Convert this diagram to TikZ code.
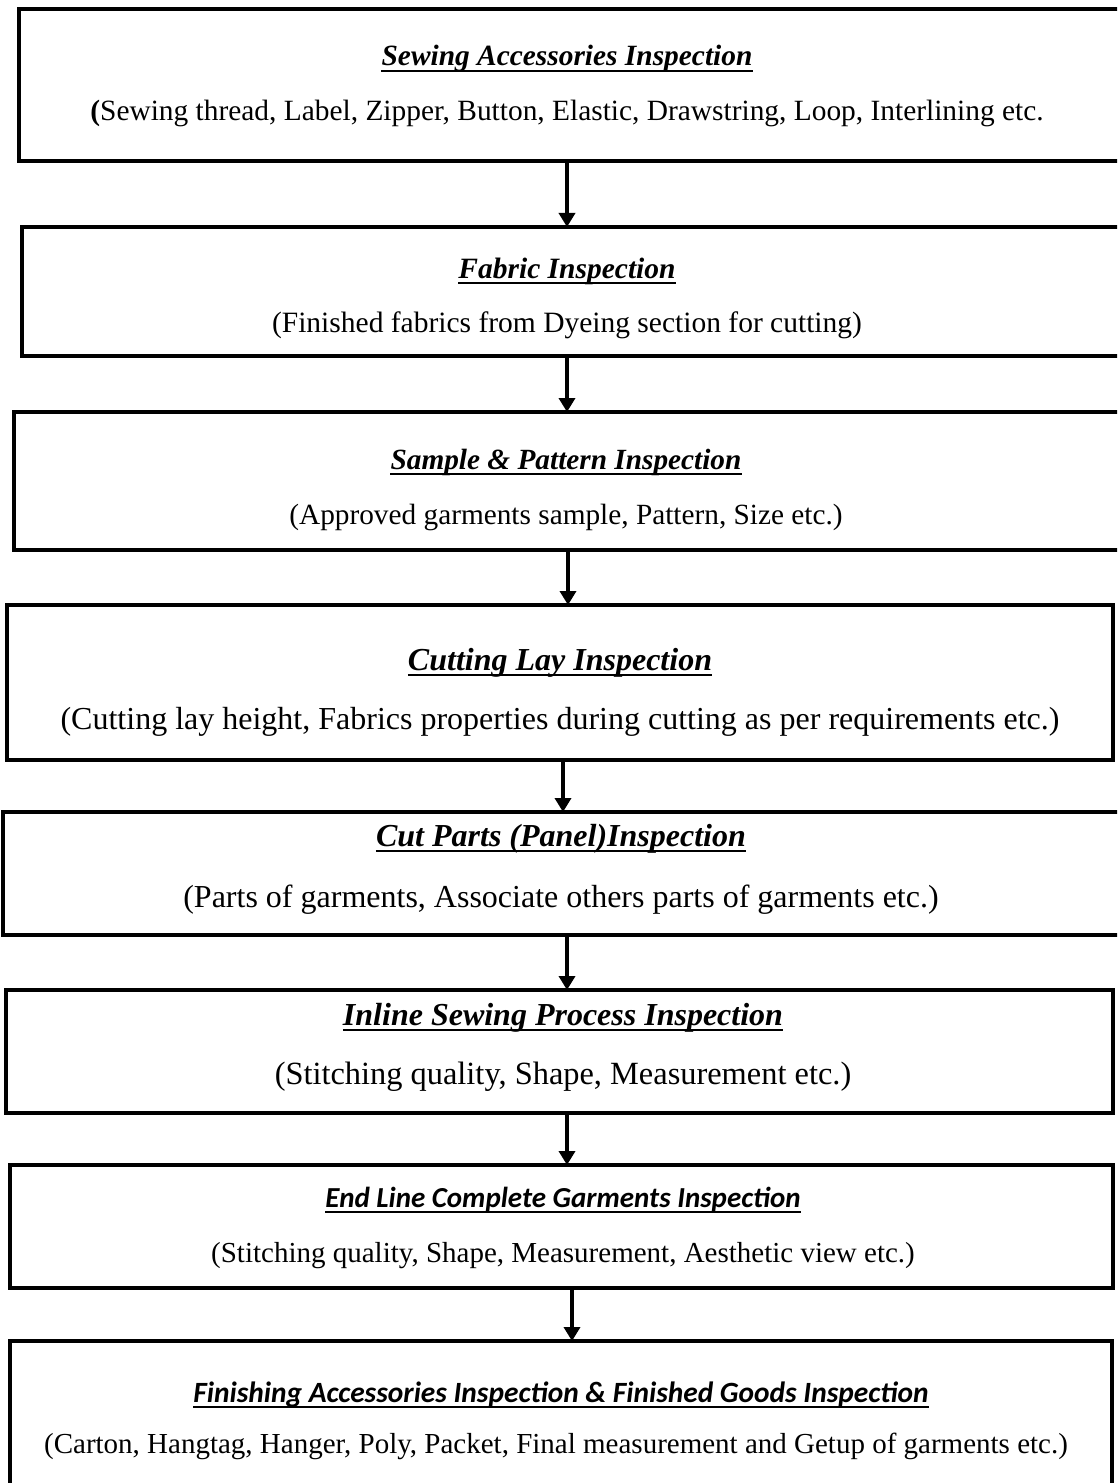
\documentclass[tikz,border=0pt]{standalone}
\usepackage{fontspec}
\setmainfont{Liberation Serif}
\newfontfamily\calib{Carlito}
\usetikzlibrary{arrows.meta}

\tikzset{
  stagebox/.style={draw, line width=3.5bp, rectangle, anchor=north west,
                   inner sep=0pt, outer sep=0pt},
  headtxt/.style={anchor=base, inner sep=0pt,
                  font=\fontsize{#1}{#1}\selectfont\bfseries\itshape},
  headsans/.style={anchor=base, inner sep=0pt,
                   font=\fontsize{#1}{#1}\selectfont\calib\bfseries\itshape},
  subtxt/.style={anchor=base, inner sep=0pt,
                 font=\fontsize{#1}{#1}\selectfont},
  headrule/.style={line width=2.5bp},
  flow/.style={line width=3.5bp, -{Triangle[width=16bp,length=14bp]}}
}

\begin{document}
\begin{tikzpicture}[x=1bp, y=-1bp]
  \useasboundingbox (0,0) rectangle (1117,1483);
  \clip (0,0) rectangle (1117,1483);

  % stage boxes (top left corner, size)
  \node[stagebox, minimum width=1120bp, minimum height=152bp] (b1) at (19,9) {};
  \node[stagebox, minimum width=1120bp, minimum height=129bp] (b2) at (22,227) {};
  \node[stagebox, minimum width=1120bp, minimum height=138bp] (b3) at (14,412) {};
  \node[stagebox, minimum width=1106bp, minimum height=155bp] (b4) at (7,605) {};
  \node[stagebox, minimum width=1130bp, minimum height=123bp] (b5) at (3,812) {};
  \node[stagebox, minimum width=1107bp, minimum height=123bp] (b6) at (6,990) {};
  \node[stagebox, minimum width=1103bp, minimum height=123bp] (b7) at (10,1165) {};
  \node[stagebox, minimum width=1102bp, minimum height=200bp] (b8) at (10,1341) {};

  % headings and descriptions
  \node[headtxt=29.4bp] (t1) at (567,66) {Sewing Accessories Inspection};
  \node[subtxt=29.4bp]  (s1) at (567,121) {\textbf{(}Sewing thread, Label, Zipper, Button, Elastic, Drawstring, Loop, Interlining etc.};

  \node[headtxt=29.5bp] (t2) at (567,278) {Fabric Inspection};
  \node[subtxt=29.5bp]  (s2) at (567,332) {(Finished fabrics from Dyeing section for cutting)};

  \node[headtxt=29.3bp] (t3) at (566,469) {Sample \& Pattern Inspection};
  \node[subtxt=29.3bp]  (s3) at (566,524) {(Approved garments sample, Pattern, Size etc.)};

  \node[headtxt=32bp] (t4) at (560,670) {Cutting Lay Inspection};
  \node[subtxt=32bp]  (s4) at (560,729)
       {(Cutting lay height, Fabrics properties during cutting as per requirements etc.)};

  \node[headtxt=32bp] (t5) at (561,846) {Cut Parts (Panel)Inspection};
  \node[subtxt=32bp]  (s5) at (561,907)
       {(Parts of garments, Associate others parts of garments etc.)};

  \node[headtxt=32bp] (t6) at (563,1025) {Inline Sewing Process Inspection};
  \node[subtxt=32.4bp] (s6) at (563,1084) {(Stitching quality, Shape, Measurement etc.)};

  \node[headsans=29bp] (t7) at (563,1207) {End Line Complete Garments Inspection};
  \node[subtxt=29bp]   (s7) at (563,1262) {(Stitching quality, Shape, Measurement, Aesthetic view etc.)};

  \node[headsans=29.4bp] (t8) at (561,1402) {Finishing Accessories Inspection \& Finished Goods Inspection};
  \node[subtxt=29bp]     (s8) at (556,1453) {(Carton, Hangtag, Hanger, Poly, Packet, Final measurement and Getup of garments etc.)};

  % underlines of the headings
  \foreach \h in {t1,t2,t3,t4,t5,t6,t7,t8}
    \draw[headrule] ([yshift=-5bp]\h.base west) -- ([yshift=-5bp]\h.base east);

  % flow arrows between stages
  \coordinate (ax1) at (567,0);
  \coordinate (ax2) at (567,0);
  \coordinate (ax3) at (568,0);
  \coordinate (ax4) at (563,0);
  \coordinate (ax5) at (567,0);
  \coordinate (ax6) at (567,0);
  \coordinate (ax7) at (572,0);
  \draw[flow] (b1.south -| ax1) -- (b2.north -| ax1);
  \draw[flow] (b2.south -| ax2) -- (b3.north -| ax2);
  \draw[flow] (b3.south -| ax3) -- (b4.north -| ax3);
  \draw[flow] (b4.south -| ax4) -- (b5.north -| ax4);
  \draw[flow] (b5.south -| ax5) -- (b6.north -| ax5);
  \draw[flow] (b6.south -| ax6) -- (b7.north -| ax6);
  \draw[flow] (b7.south -| ax7) -- (b8.north -| ax7);
\end{tikzpicture}
\end{document}
